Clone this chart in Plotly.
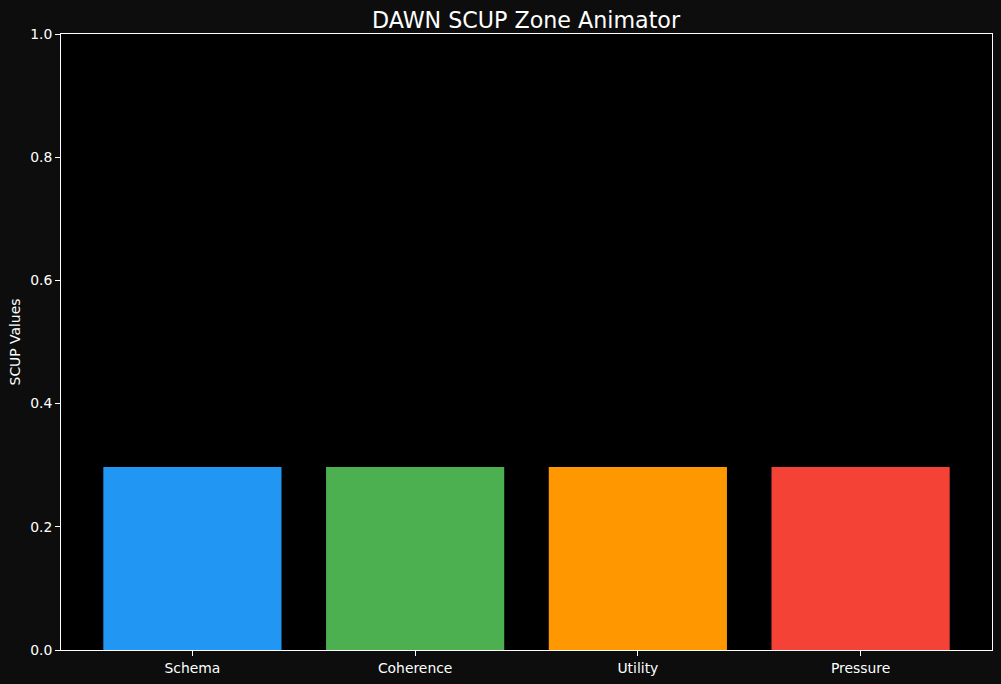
import plotly.graph_objects as go

categories = ["Schema", "Coherence", "Utility", "Pressure"]
values = [0.297, 0.297, 0.297, 0.297]
colors = ["#2196F3", "#4CAF50", "#FF9800", "#F44336"]
y_ticks = [0.0, 0.2, 0.4, 0.6, 0.8, 1.0]
y_tick_labels = ["0.0", "0.2", "0.4", "0.6", "0.8", "1.0"]

FONT = "DejaVu Sans"

fig = go.Figure(
    go.Bar(
        x=list(range(len(categories))),
        y=values,
        marker=dict(color=colors, line=dict(width=0)),
        width=0.8,
        hoverinfo="skip",
    )
)

fig.update_layout(
    width=1001,
    height=684,
    margin=dict(l=61, r=9, t=34, b=34),
    paper_bgcolor="#0d0d0d",
    plot_bgcolor="#000000",
    showlegend=False,
    font=dict(family=FONT, color="white", size=13.9),
    title=dict(
        text="DAWN SCUP Zone Animator",
        x=0.5255,
        xanchor="center",
        yref="paper",
        y=1,
        yanchor="bottom",
        pad=dict(b=6),
        font=dict(family=FONT, size=22.2, color="white"),
    ),
    bargap=0.2,
)

fig.update_xaxes(
    range=[-0.59, 3.59],
    tickmode="array",
    tickvals=list(range(len(categories))),
    ticktext=categories,
    ticks="outside",
    ticklen=5,
    tickwidth=1,
    tickcolor="white",
    showline=True,
    linecolor="white",
    linewidth=1,
    mirror=True,
    showgrid=False,
    zeroline=False,
    tickfont=dict(family=FONT, size=13.9, color="white"),
)

fig.update_yaxes(
    range=[0, 1],
    tickmode="array",
    tickvals=y_ticks,
    ticktext=y_tick_labels,
    ticks="outside",
    ticklen=5,
    tickwidth=1,
    tickcolor="white",
    showline=True,
    linecolor="white",
    linewidth=1,
    mirror=True,
    showgrid=False,
    zeroline=False,
    tickfont=dict(family=FONT, size=13.9, color="white"),
    title=dict(text="SCUP Values", font=dict(family=FONT, size=13.9, color="white"), standoff=6),
)

fig.write_html("out.html")
